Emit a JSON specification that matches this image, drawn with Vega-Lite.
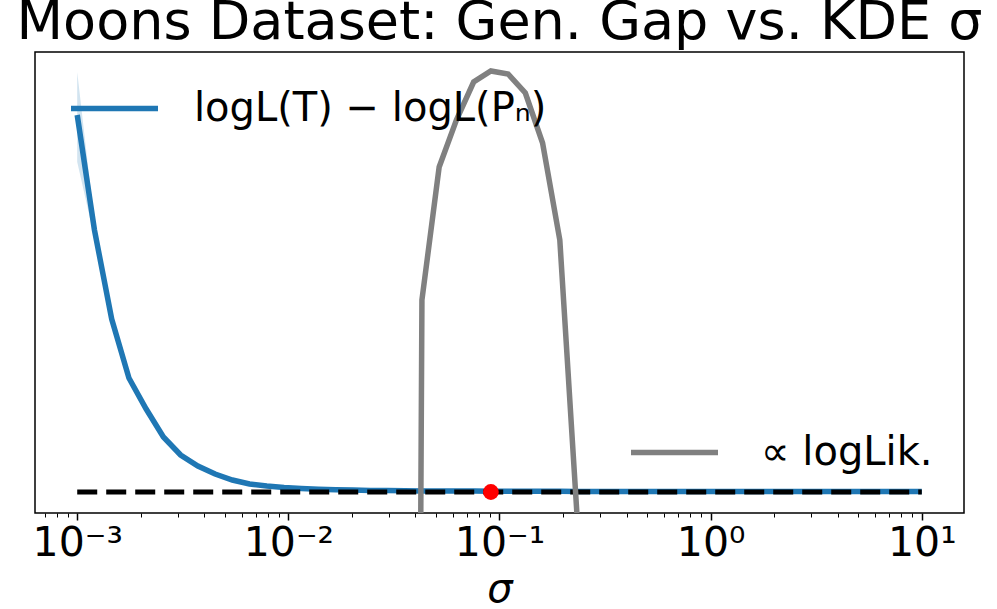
{
  "$schema": "https://vega.github.io/schema/vega-lite/v6.json",
  "width": 929,
  "height": 461,
  "autosize": "none",
  "padding": {"left": 35, "top": 52, "right": 33, "bottom": 96},
  "title": {
    "text": "Moons Dataset: Gen. Gap vs. KDE σ",
    "fontSize": 54,
    "fontWeight": "normal",
    "font": "DejaVu Sans",
    "color": "black",
    "anchor": "middle",
    "baseline": "alphabetic",
    "offset": 8,
    "dy": 49
  },
  "config": {
    "font": "DejaVu Sans",
    "view": {"stroke": "black", "strokeWidth": 1.5}
  },
  "datasets": {
    "gap": [
      {"sigma": 0.001, "gap": 3.77, "lo": 3.30, "hi": 4.20},
      {"sigma": 0.0012068, "gap": 2.62, "lo": 2.54, "hi": 2.70},
      {"sigma": 0.0014563, "gap": 1.73, "lo": 1.70, "hi": 1.76},
      {"sigma": 0.0017575, "gap": 1.14, "lo": 1.12, "hi": 1.16},
      {"sigma": 0.0021210, "gap": 0.83, "lo": 0.82, "hi": 0.84},
      {"sigma": 0.0025595, "gap": 0.55, "lo": 0.545, "hi": 0.555},
      {"sigma": 0.0030888, "gap": 0.37, "lo": 0.365, "hi": 0.375},
      {"sigma": 0.0037276, "gap": 0.26, "lo": 0.255, "hi": 0.265},
      {"sigma": 0.0044984, "gap": 0.18, "lo": 0.177, "hi": 0.183},
      {"sigma": 0.0054287, "gap": 0.12, "lo": 0.118, "hi": 0.122},
      {"sigma": 0.0065513, "gap": 0.08, "lo": 0.079, "hi": 0.081},
      {"sigma": 0.0079060, "gap": 0.06, "lo": 0.059, "hi": 0.061},
      {"sigma": 0.0095410, "gap": 0.045, "lo": 0.044, "hi": 0.046},
      {"sigma": 0.011514, "gap": 0.035, "lo": 0.034, "hi": 0.036},
      {"sigma": 0.013895, "gap": 0.028, "lo": 0.027, "hi": 0.029},
      {"sigma": 0.016768, "gap": 0.023, "lo": 0.022, "hi": 0.024},
      {"sigma": 0.020236, "gap": 0.019, "lo": 0.018, "hi": 0.020},
      {"sigma": 0.024421, "gap": 0.016, "lo": 0.015, "hi": 0.017},
      {"sigma": 0.029471, "gap": 0.014, "lo": 0.013, "hi": 0.015},
      {"sigma": 0.035565, "gap": 0.012, "lo": 0.011, "hi": 0.013},
      {"sigma": 0.042919, "gap": 0.011, "lo": 0.010, "hi": 0.012},
      {"sigma": 0.051795, "gap": 0.010, "lo": 0.009, "hi": 0.011},
      {"sigma": 0.062506, "gap": 0.009, "lo": 0.008, "hi": 0.010},
      {"sigma": 0.075431, "gap": 0.009, "lo": 0.008, "hi": 0.010},
      {"sigma": 0.091030, "gap": 0.008, "lo": 0.007, "hi": 0.009},
      {"sigma": 0.10985, "gap": 0.008, "lo": 0.007, "hi": 0.009},
      {"sigma": 0.13257, "gap": 0.007, "lo": 0.006, "hi": 0.008},
      {"sigma": 0.15999, "gap": 0.007, "lo": 0.006, "hi": 0.008},
      {"sigma": 0.19307, "gap": 0.007, "lo": 0.006, "hi": 0.008},
      {"sigma": 0.23300, "gap": 0.006, "lo": 0.005, "hi": 0.007},
      {"sigma": 0.28118, "gap": 0.006, "lo": 0.005, "hi": 0.007},
      {"sigma": 0.33932, "gap": 0.006, "lo": 0.005, "hi": 0.007},
      {"sigma": 0.40949, "gap": 0.006, "lo": 0.005, "hi": 0.007},
      {"sigma": 0.49417, "gap": 0.006, "lo": 0.005, "hi": 0.007},
      {"sigma": 0.59636, "gap": 0.005, "lo": 0.004, "hi": 0.006},
      {"sigma": 0.71969, "gap": 0.005, "lo": 0.004, "hi": 0.006},
      {"sigma": 0.86851, "gap": 0.005, "lo": 0.004, "hi": 0.006},
      {"sigma": 1.0481, "gap": 0.005, "lo": 0.004, "hi": 0.006},
      {"sigma": 1.2649, "gap": 0.005, "lo": 0.004, "hi": 0.006},
      {"sigma": 1.5264, "gap": 0.005, "lo": 0.004, "hi": 0.006},
      {"sigma": 1.8421, "gap": 0.005, "lo": 0.004, "hi": 0.006},
      {"sigma": 2.2230, "gap": 0.005, "lo": 0.004, "hi": 0.006},
      {"sigma": 2.6827, "gap": 0.005, "lo": 0.004, "hi": 0.006},
      {"sigma": 3.2375, "gap": 0.005, "lo": 0.004, "hi": 0.006},
      {"sigma": 3.9069, "gap": 0.005, "lo": 0.004, "hi": 0.006},
      {"sigma": 4.7149, "gap": 0.005, "lo": 0.004, "hi": 0.006},
      {"sigma": 5.6899, "gap": 0.005, "lo": 0.004, "hi": 0.006},
      {"sigma": 6.8665, "gap": 0.005, "lo": 0.004, "hi": 0.006},
      {"sigma": 8.2864, "gap": 0.005, "lo": 0.004, "hi": 0.006},
      {"sigma": 10, "gap": 0.005, "lo": 0.004, "hi": 0.006}
    ],
    "loglik": [
      {"sigma": 0.035565, "loglik": -30},
      {"sigma": 0.042919, "loglik": 1.92},
      {"sigma": 0.051795, "loglik": 3.25},
      {"sigma": 0.062506, "loglik": 3.72},
      {"sigma": 0.075431, "loglik": 4.10},
      {"sigma": 0.091030, "loglik": 4.21},
      {"sigma": 0.10985, "loglik": 4.18},
      {"sigma": 0.13257, "loglik": 3.99},
      {"sigma": 0.15999, "loglik": 3.49},
      {"sigma": 0.19307, "loglik": 2.52},
      {"sigma": 0.23300, "loglik": -0.24},
      {"sigma": 0.28118, "loglik": -30}
    ],
    "zero": [
      {"sigma": 0.001, "y": 0},
      {"sigma": 10, "y": 0}
    ],
    "best": [
      {"sigma": 0.091030, "y": 0}
    ]
  },
  "layer": [
    {
      "data": {"name": "gap"},
      "mark": {"type": "area", "color": "#1f77b4", "opacity": 0.2, "clip": true},
      "encoding": {
        "x": {
          "field": "sigma",
          "type": "quantitative",
          "scale": {"type": "log", "domain": [0.000631, 15.85], "nice": false},
          "axis": {
            "values": [0.0007, 0.0008, 0.0009, 0.001, 0.002, 0.003, 0.004, 0.005, 0.006, 0.007, 0.008, 0.009, 0.01, 0.02, 0.03, 0.04, 0.05, 0.06, 0.07, 0.08, 0.09, 0.1, 0.2, 0.3, 0.4, 0.5, 0.6, 0.7, 0.8, 0.9, 1, 2, 3, 4, 5, 6, 7, 8, 9, 10],
            "labelExpr": "abs(log(datum.value)/LN10 - round(log(datum.value)/LN10)) > 0.01 ? '' : datum.value < 0.005 ? '10⁻³' : datum.value < 0.05 ? '10⁻²' : datum.value < 0.5 ? '10⁻¹' : datum.value < 5 ? '10⁰' : '10¹'",
            "tickSize": {"condition": {"test": "abs(log(datum.value)/LN10 - round(log(datum.value)/LN10)) < 0.01", "value": 7}, "value": 4},
            "tickWidth": {"condition": {"test": "abs(log(datum.value)/LN10 - round(log(datum.value)/LN10)) < 0.01", "value": 1.5}, "value": 1},
            "tickColor": "black",
            "domain": false,
            "grid": false,
            "labelFontSize": 41,
            "labelColor": "black",
            "labelPadding": 3,
            "labelFlush": false,
            "labelOverlap": false,
            "title": "σ",
            "titleFontSize": 40,
            "titleFontStyle": "italic",
            "titleFontWeight": "normal",
            "titleColor": "black",
            "titlePadding": 6
          }
        },
        "y": {
          "field": "hi",
          "type": "quantitative",
          "scale": {"domain": [-0.21, 4.40], "nice": false, "zero": false},
          "axis": null
        },
        "y2": {"field": "lo"}
      }
    },
    {
      "data": {"name": "gap"},
      "mark": {"type": "line", "strokeWidth": 5.5, "clip": true},
      "encoding": {
        "x": {"field": "sigma", "type": "quantitative"},
        "y": {"field": "gap", "type": "quantitative"},
        "color": {
          "datum": "logL(T) − logL(Pₙ)",
          "scale": {"range": ["#1f77b4"]},
          "legend": {
            "orient": "none",
            "legendX": 33,
            "legendY": 10,
            "title": null,
            "symbolType": "stroke",
            "symbolStrokeWidth": 5.5,
            "symbolSize": 7569,
            "labelFontSize": 40,
            "labelColor": "black",
            "labelOffset": 33,
            "labelLimit": 600
          }
        }
      }
    },
    {
      "data": {"name": "zero"},
      "mark": {"type": "line", "color": "black", "strokeWidth": 5, "strokeDash": [20, 9], "clip": true},
      "encoding": {
        "x": {"field": "sigma", "type": "quantitative"},
        "y": {"field": "y", "type": "quantitative"}
      }
    },
    {
      "data": {"name": "loglik"},
      "mark": {"type": "line", "strokeWidth": 5.5, "clip": true},
      "encoding": {
        "x": {"field": "sigma", "type": "quantitative"},
        "y": {"field": "loglik", "type": "quantitative"},
        "color": {
          "datum": "∝ logLik.",
          "scale": {"range": ["#808080"]},
          "legend": {
            "orient": "none",
            "legendX": 593,
            "legendY": 354,
            "title": null,
            "symbolType": "stroke",
            "symbolStrokeWidth": 5.5,
            "symbolSize": 7569,
            "labelFontSize": 40,
            "labelColor": "black",
            "labelOffset": 40,
            "labelLimit": 600
          }
        }
      }
    },
    {
      "data": {"name": "best"},
      "mark": {"type": "circle", "color": "#ff0000", "size": 250, "opacity": 1, "clip": true},
      "encoding": {
        "x": {"field": "sigma", "type": "quantitative"},
        "y": {"field": "y", "type": "quantitative"}
      }
    }
  ],
  "resolve": {"scale": {"color": "independent"}, "legend": {"color": "independent"}}
}
